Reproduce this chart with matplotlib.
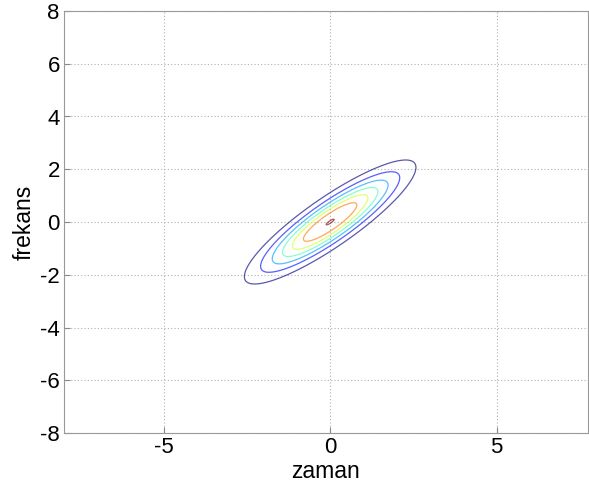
import numpy as np
import matplotlib
matplotlib.use("Agg")
import matplotlib.pyplot as plt

# grid (time / frequency)
t_axis = np.arange(-8, 7.76, 0.02)
f_axis = np.arange(-8, 8.01, 0.02)

# rotated Gaussian blob parameters
angle_deg = 42.0    # orientation of the major axis
major = 2.23        # 1/e half-length along major axis
minor = 0.56        # 1/e half-width along minor axis
levels = [0.1, 0.22, 0.35, 0.49, 0.64, 0.80, 0.995]

xticks = [-5, 0, 5]
yticks = [-8, -6, -4, -2, 0, 2, 4, 6, 8]

T, F = np.meshgrid(t_axis, f_axis)
th = np.deg2rad(angle_deg)
U = T * np.cos(th) + F * np.sin(th)
V = -T * np.sin(th) + F * np.cos(th)
Z = np.exp(-(U / major) ** 2 - (V / minor) ** 2)

plt.rcParams['font.family'] = ['Liberation Sans', 'DejaVu Sans']
plt.rcParams['axes.unicode_minus'] = False
fig = plt.figure(figsize=(5.89, 4.90), dpi=100)
ax = fig.add_axes([64 / 589, 1 - 433 / 490, (588 - 64) / 589, (433 - 11) / 490])
ax.contour(T, F, Z, levels=levels, cmap='jet', linewidths=0.9, alpha=0.65)

ax.set_xlim(-8, 7.75)
ax.set_ylim(-8, 8)
ax.set_xticks(xticks)
ax.set_yticks(yticks)
ax.grid(True, linestyle=(0, (1, 2)), color='#b0b0b0', linewidth=0.8)
ax.tick_params(direction='in', length=4, color='#888888', labelsize=16, pad=3)
for s in ax.spines.values():
    s.set_color('#999999')
    s.set_linewidth(0.8)
ax.set_xlabel('zaman', fontsize=16.5, labelpad=1)
ax.set_ylabel('frekans', fontsize=16.5, labelpad=3)

fig.savefig('out.png', dpi=100)
